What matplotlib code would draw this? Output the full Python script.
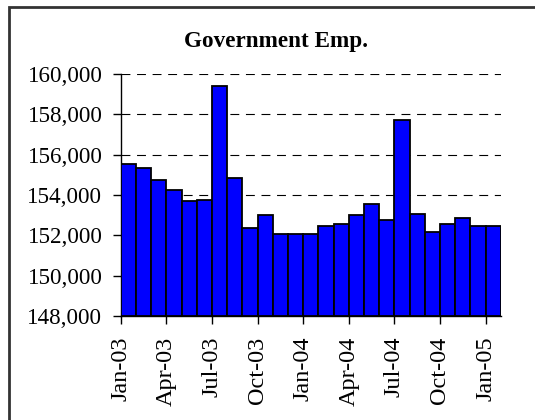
import matplotlib.pyplot as plt
from matplotlib.patches import Rectangle
from matplotlib.ticker import FuncFormatter

# Monthly government employment, Jan-03 .. Jan-05
months = ["Jan-03", "Feb-03", "Mar-03", "Apr-03", "May-03", "Jun-03", "Jul-03",
          "Aug-03", "Sep-03", "Oct-03", "Nov-03", "Dec-03", "Jan-04", "Feb-04",
          "Mar-04", "Apr-04", "May-04", "Jun-04", "Jul-04", "Aug-04", "Sep-04",
          "Oct-04", "Nov-04", "Dec-04", "Jan-05"]
values = [155550, 155350, 154750, 154260, 153680, 153760, 159420,
          154840, 152350, 152980, 152070, 152070, 152070, 152470,
          152580, 152980, 153560, 152770, 157730, 153060, 152170,
          152580, 152860, 152470, 152470]
tick_every = 3

plt.rcParams['font.family'] = ['Liberation Serif', 'DejaVu Serif']

fig = plt.figure(figsize=(5.35, 4.2), dpi=100)
ax = fig.add_axes([0.226, 0.248, 0.71, 0.576])

x = list(range(len(values)))
ax.bar(x, [v - 148000 for v in values], bottom=148000, width=1.0, align='edge',
       color='#0000ff', edgecolor='black', linewidth=1.3, zorder=3)

ax.set_xlim(0, len(values))
ax.set_ylim(148000, 160000)
ax.set_yticks(range(148000, 160001, 2000))
ax.yaxis.set_major_formatter(FuncFormatter(lambda v, p: f"{int(v):,}"))
ax.yaxis.grid(True, linestyle=(0, (8, 6)), color='black', linewidth=0.8, zorder=0)

ticks = x[::tick_every]
ax.set_xticks(ticks)
ax.set_xticklabels([months[i] for i in ticks], rotation=90)

ax.tick_params(axis='y', labelsize=16.6, direction='out', length=5.8, width=1,
               color='black', pad=7.5)
ax.tick_params(axis='x', labelsize=17.5, direction='out', length=5.8, width=1,
               color='black', pad=9)
for s in ['top', 'right']:
    ax.spines[s].set_visible(False)
for s in ['left', 'bottom']:
    ax.spines[s].set_linewidth(1)

fig.text(276 / 535, 1 - 42 / 420, "Government Emp.", fontsize=16.7,
         fontweight='bold', ha='center', va='center')

# outer chart-area frame
fig.patches.append(Rectangle((9 / 535, -0.05), 1.1, 1 - 7 / 420 + 0.05,
                             transform=fig.transFigure, fill=False,
                             edgecolor='#333333', linewidth=2))

fig.savefig("out.png", dpi=100)
